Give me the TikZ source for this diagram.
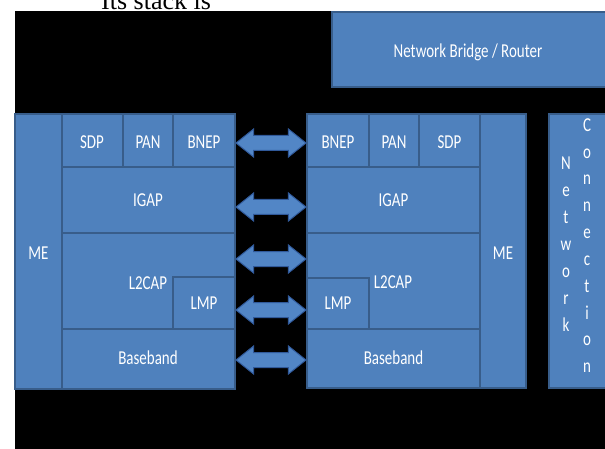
\documentclass[tikz,border=0pt]{standalone}
\usepackage{fontspec}
\setmainfont{Liberation Serif}
\newfontfamily\lblfont[FakeStretch=0.76]{Carlito}
\usetikzlibrary{shapes.arrows,calc}
\definecolor{boxblue}{HTML}{4F81BD}
\definecolor{edgeblue}{HTML}{385D8A}
\definecolor{arrowblue}{HTML}{5286C6}
\definecolor{arrowedge}{HTML}{30599A}
\begin{document}
\begin{tikzpicture}[x=1pt,y=-1pt,
  layer/.style={draw=edgeblue, line width=1.3pt, fill=boxblue},
  lbl/.style={text=white, font=\lblfont\fontsize{19.7}{22}\selectfont, inner sep=0pt, anchor=base},
  dbl/.style={double arrow, draw=arrowedge, fill=arrowblue, line width=1pt,
    minimum height=70pt, inner xsep=0pt, inner ysep=7pt,
    double arrow head extend=6.5pt, double arrow tip angle=77}]
\useasboundingbox (0,0) rectangle (605,449);
\clip (0,0) rectangle (605,449);
\fill[black] (15,11) rectangle (620,460);
\node[font=\fontsize{26}{26}\selectfont, anchor=base west, inner sep=0pt] (title) at (101,9.5) {Its stack is};

% Network bridge / router
\path[layer] (332,12) rectangle (620,87);
\node[lbl] (bridge) at (468,58) {Network Bridge / Router};

% Left stack
\path[layer] (15,114) rectangle (62,389);
\path[layer] (62,114) rectangle (123,167);
\path[layer] (123,114) rectangle (173,167);
\path[layer] (173,114) rectangle (235,167);
\path[layer] (62,167) rectangle (235,233);
\path[layer] (62,233) rectangle (235,329);
\path[layer] (173,277) rectangle (235,329);
\path[layer] (62,329) rectangle (235,389);
\node[lbl] (meL) at (38.5,259.5) {ME};
\node[lbl] (sdpL) at (92,149) {SDP};
\node[lbl] (panL) at (148,149) {PAN};
\node[lbl] (bnepL) at (204,149) {BNEP};
\node[lbl] (igapL) at (148,206.3) {IGAP};
\node[lbl] (l2capL) at (148,289) {L2CAP};
\node[lbl] (lmpL) at (204,309.7) {LMP};
\node[lbl] (baseL) at (148,364) {Baseband};

% Right stack
\path[layer] (307,114) rectangle (369,167);
\path[layer] (369,114) rectangle (419,167);
\path[layer] (419,114) rectangle (480,167);
\path[layer] (307,167) rectangle (480,233);
\path[layer] (307,233) rectangle (480,329);
\path[layer] (307,278) rectangle (369,329);
\path[layer] (307,329) rectangle (480,388);
\path[layer] (480,114) rectangle (526,388);
\node[lbl] (bnepR) at (338,149) {BNEP};
\node[lbl] (panR) at (394,149) {PAN};
\node[lbl] (sdpR) at (449.5,149) {SDP};
\node[lbl] (igapR) at (393.5,206.3) {IGAP};
\node[lbl] (l2capR) at (393,288) {L2CAP};
\node[lbl] (lmpR) at (338,309.7) {LMP};
\node[lbl] (baseR) at (393.5,364) {Baseband};
\node[lbl] (meR) at (503,259) {ME};

% Network connection
\path[layer] (549,114) rectangle (620,388);
\foreach \c [count=\i] in {N,e,t,w,o,r,k}
  \node[lbl] (nw\i) at (566,169.7+27*\i-27) {\c};
\foreach \c [count=\i] in {C,o,n,n,e,c,t,i,o,n}
  \node[lbl] (cn\i) at (587,131.4+26.8*\i-26.8) {\c};

% Arrows
\node[dbl] (ar1) at (271,143) {};
\node[dbl] (ar2) at (271,207) {};
\node[dbl] (ar3) at (271,259) {};
\node[dbl] (ar4) at (271,310) {};
\node[dbl] (ar5) at (271,360) {};
\end{tikzpicture}
\end{document}
